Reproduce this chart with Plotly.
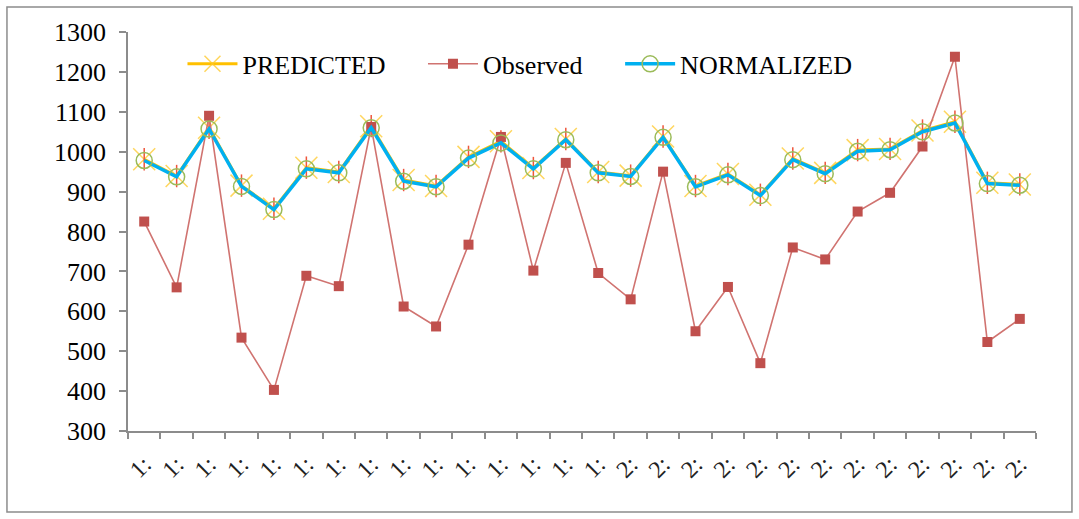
import plotly.graph_objects as go

# ---- data ----
x_idx = list(range(28))
x_labels = ["1:"] * 15 + ["2:"] * 13

normalized = [978, 937, 1057, 913, 855, 957, 947, 1060, 926, 912, 984, 1022, 957, 1030,
              947, 938, 1036, 912, 942, 890, 980, 945, 1001, 1005, 1050, 1072, 920, 916]
predicted = [981, 939, 1060, 915, 857, 960, 949, 1064, 929, 914, 987, 1026, 959, 1032,
             949, 940, 1038, 914, 944, 892, 983, 947, 1004, 1007, 1053, 1075, 922, 918]
observed = [825, 660, 1090, 534, 403, 689, 663, 1062, 612, 562, 767, 1037, 702, 972,
            696, 630, 950, 550, 661, 470, 760, 730, 850, 897, 1013, 1238, 523, 581]

y_ticks = [300, 400, 500, 600, 700, 800, 900, 1000, 1100, 1200, 1300]

FONT = "Liberation Serif, Times New Roman, serif"
C_PRED = "#FFC000"
C_OBS = "#C0504D"
C_NORM = "#00B0F0"
C_NORM_MK = "#9BBB59"
PAD = "\u00a0" * 5

fig = go.Figure()

# PREDICTED
fig.add_trace(go.Scatter(
    x=x_idx, y=predicted, name="PREDICTED" + PAD, mode="lines+markers",
    line=dict(color=C_PRED, width=3),
    marker=dict(symbol="x-thin-open", size=22, color="rgba(255,200,40,0.75)",
                line=dict(width=1.5, color="rgba(255,200,40,0.75)")),
))
fig.add_trace(go.Scatter(
    x=x_idx, y=predicted, name="PREDICTED", mode="markers", showlegend=False,
    marker=dict(symbol="line-ns-open", size=16,
                line=dict(width=1.5, color="rgba(255,190,0,0.9)")),
    hoverinfo="skip",
))
# Observed
fig.add_trace(go.Scatter(
    x=x_idx, y=observed, name="Observed" + PAD, mode="lines+markers",
    line=dict(color="#D07370", width=1.6),
    marker=dict(symbol="square", size=10, color=C_OBS),
))
# NORMALIZED
fig.add_trace(go.Scatter(
    x=x_idx, y=normalized, name="NORMALIZED", mode="lines+markers",
    line=dict(color=C_NORM, width=3.5),
    marker=dict(symbol="circle-open", size=16, color=C_NORM_MK,
                line=dict(width=1.5, color=C_NORM_MK)),
))

fig.update_layout(
    width=1079, height=519,
    margin=dict(l=128, r=43, t=32, b=88),
    paper_bgcolor="white", plot_bgcolor="white",
    font=dict(family=FONT, size=26, color="black"),
    showlegend=True,
    legend=dict(orientation="h", x=0.06, y=0.92, xanchor="left", yanchor="middle",
                bgcolor="rgba(0,0,0,0)", font=dict(family=FONT, size=26),
                itemwidth=50),
    shapes=[dict(type="rect", xref="paper", yref="paper",
                 x0=-0.1333, x1=1.0396, y0=-0.203, y1=1.0627,
                 line=dict(color="#8C8C8C", width=1.5), fillcolor="rgba(0,0,0,0)",
                 layer="below")],
)

fig.update_xaxes(
    range=[-0.5, 27.5], tickmode="array", tickvals=x_idx, ticktext=x_labels,
    ticks="", tickangle=-45, showgrid=False, zeroline=False,
    showline=True, linecolor="#8C8C8C", linewidth=1.5,
    tickfont=dict(family=FONT, size=24, color="#222222"),
    ticklabelstandoff=8,
    minor=dict(ticks="outside", tickmode="linear", tick0=-0.5, dtick=1,
               ticklen=6, tickcolor="#8C8C8C", tickwidth=1.5, showgrid=False),
)
fig.update_yaxes(
    range=[300, 1300], tickmode="array", tickvals=y_ticks,
    ticks="outside", ticklen=7, tickcolor="#8C8C8C", tickwidth=1.5,
    showgrid=False, zeroline=False,
    showline=True, linecolor="#8C8C8C", linewidth=1.5,
    tickfont=dict(family=FONT, size=26),
    ticklabelstandoff=8,
)

fig.write_html("out.html",
               config={"displayModeBar": False},
               post_script="document.body.style.margin='0';document.body.style.padding='0';")
